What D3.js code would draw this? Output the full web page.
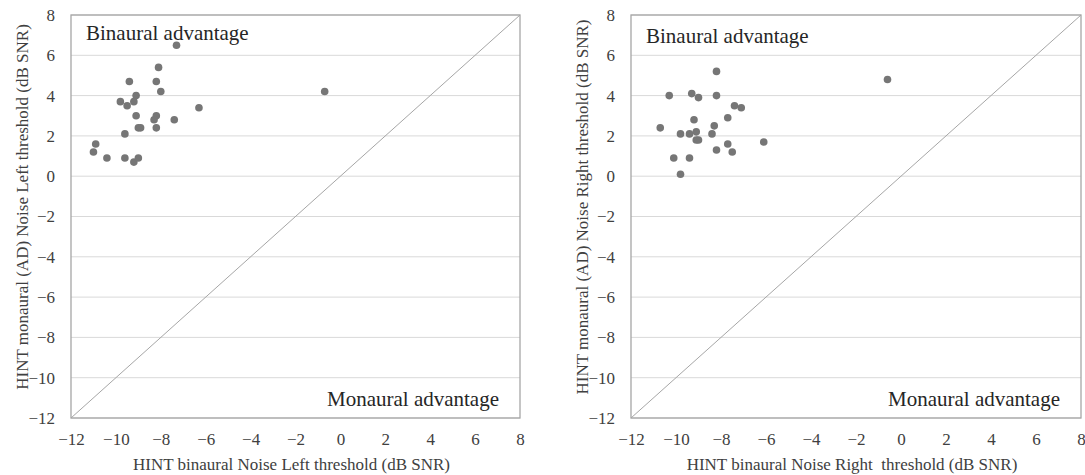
<!DOCTYPE html>
<html>
<head>
<meta charset="utf-8">
<script src="https://cdn.jsdelivr.net/npm/d3@7"></script>
<style>
  body { margin: 0; background: #fff; }
  text { font-family: "Liberation Serif", "Times New Roman", serif; }
</style>
</head>
<body>
<div id="chart"></div>
<script>
// Data
// ================================
var leftX = [-7.3, -8.1, -9.4, -8.2, -8.0, -9.1, -9.8, -9.2, -9.5, -6.3, -9.1, -8.2,
  -8.3, -7.4, -9.0, -8.9, -8.2, -9.6, -10.9, -11.0, -10.4, -9.6, -9.2, -9.0, -0.7];
var leftY = [6.5, 5.4, 4.7, 4.7, 4.2, 4.0, 3.7, 3.7, 3.5, 3.4, 3.0, 3.0,
  2.8, 2.8, 2.4, 2.4, 2.4, 2.1, 1.6, 1.2, 0.9, 0.9, 0.7, 0.9, 4.2];

var rightX = [-8.2, -10.3, -9.3, -9.0, -8.2, -7.4, -7.1, -7.7, -9.2, -10.7, -8.3, -9.8,
  -9.4, -9.1, -8.4, -9.1, -9.0, -7.7, -8.2, -7.5, -6.1, -10.1, -9.4, -9.8, -0.6];
var rightY = [5.2, 4.0, 4.1, 3.9, 4.0, 3.5, 3.4, 2.9, 2.8, 2.4, 2.5, 2.1,
  2.1, 2.2, 2.1, 1.8, 1.8, 1.6, 1.3, 1.2, 1.7, 0.9, 0.9, 0.1, 4.8];

var tickValues = [-12, -10, -8, -6, -4, -2, 0, 2, 4, 6, 8];

var panels = [
  { xs: leftX, ys: leftY, left: 71, right: 520,
    xTitle: "HINT binaural Noise Left threshold (dB SNR)",
    yTitle: "HINT monaural (AD) Noise Left threshold (dB SNR)",
    topLabelY: 40 },
  { xs: rightX, ys: rightY, left: 631, right: 1081,
    xTitle: "HINT binaural Noise Right  threshold (dB SNR)",
    yTitle: "HINT monaural (AD) Noise Right threshold (dB SNR)",
    topLabelY: 43 }
];

// Set up svg
// ================================
var svgWidth = 1085;
var svgHeight = 475;
var plotTop = 15, plotBottom = 418;

var svg = d3.select("#chart")
  .append("svg")
  .attr("width", svgWidth)
  .attr("height", svgHeight);

var fmt = d3.format("");

panels.forEach(function (p) {
  var x = d3.scaleLinear().domain([-12, 8]).range([p.left, p.right]);
  var y = d3.scaleLinear().domain([-12, 8]).range([plotBottom, plotTop]);

  var g = svg.append("g");

  // horizontal gridlines
  g.selectAll("line.grid")
    .data(tickValues)
    .enter()
    .append("line")
    .attr("class", "grid")
    .attr("x1", p.left)
    .attr("x2", p.right)
    .attr("y1", d => y(d))
    .attr("y2", d => y(d))
    .attr("stroke", "#d9d9d9")
    .attr("stroke-width", 1);

  // diagonal (equal performance)
  g.append("line")
    .attr("x1", x(-12))
    .attr("y1", y(-12))
    .attr("x2", x(8))
    .attr("y2", y(8))
    .attr("stroke", "#a6a6a6")
    .attr("stroke-width", 1);

  // plot border
  g.append("rect")
    .attr("x", p.left)
    .attr("y", plotTop)
    .attr("width", p.right - p.left)
    .attr("height", plotBottom - plotTop)
    .attr("fill", "none")
    .attr("stroke", "#a6a6a6")
    .attr("stroke-width", 1.3);

  // axes (labels only)
  var bottomAxis = d3.axisBottom(x).tickValues(tickValues).tickFormat(fmt).tickSize(0).tickPadding(15);
  var leftAxis = d3.axisLeft(y).tickValues(tickValues).tickFormat(fmt).tickSize(0).tickPadding(16);

  var xa = g.append("g")
    .attr("transform", `translate(0, ${plotBottom})`)
    .call(bottomAxis);
  var ya = g.append("g")
    .attr("transform", `translate(${p.left}, 0)`)
    .call(leftAxis);

  [xa, ya].forEach(function (a) {
    a.select(".domain").remove();
    a.selectAll("text")
      .attr("font-family", "Liberation Serif, serif")
      .attr("font-size", "17px")
      .attr("fill", "#404040");
  });

  // points
  g.selectAll("circle")
    .data(p.xs)
    .enter()
    .append("circle")
    .attr("cx", d => x(d))
    .attr("cy", (d, i) => y(p.ys[i]))
    .attr("r", 3.8)
    .attr("fill", "#767676");

  // corner labels
  g.append("text")
    .attr("x", p.left + 15)
    .attr("y", p.topLabelY)
    .attr("font-size", "21px")
    .attr("fill", "#262626")
    .text("Binaural advantage");

  g.append("text")
    .attr("x", p.right - 21)
    .attr("y", 406)
    .attr("text-anchor", "end")
    .attr("font-size", "21px")
    .attr("fill", "#262626")
    .text("Monaural advantage");

  // axis titles
  g.append("text")
    .attr("x", (p.left + p.right) / 2 - 4)
    .attr("y", 470)
    .attr("text-anchor", "middle")
    .attr("font-size", "17px")
    .attr("fill", "#404040")
    .style("white-space", "pre")
    .text(p.xTitle);

  g.append("text")
    .attr("transform", `translate(${p.left - 43}, 207) rotate(-90)`)
    .attr("text-anchor", "middle")
    .attr("font-size", "17px")
    .attr("fill", "#404040")
    .text(p.yTitle);
});
</script>
</body>
</html>
